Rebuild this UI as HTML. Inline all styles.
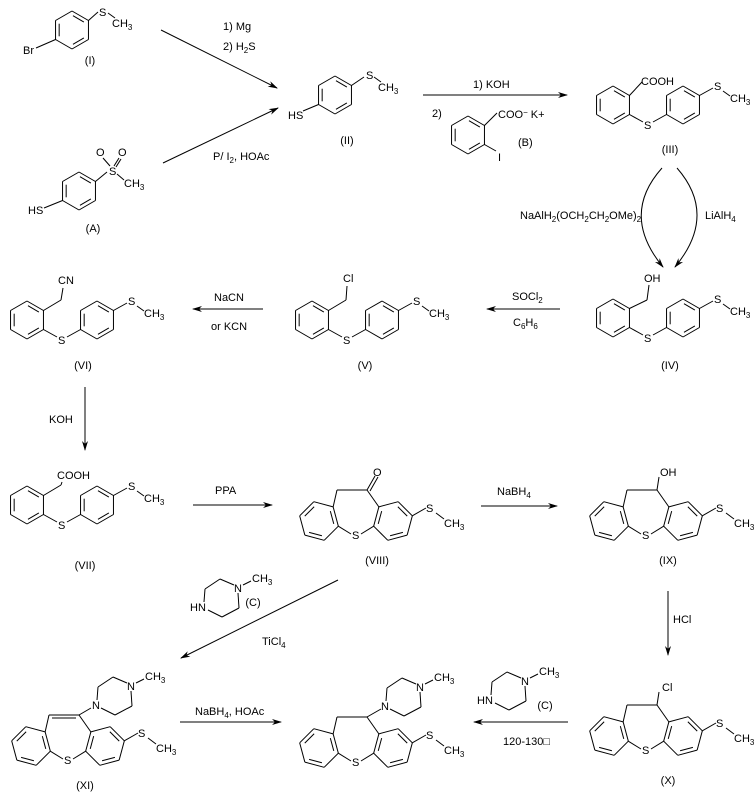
<!DOCTYPE html>
<html><head><meta charset="utf-8"><style>
html,body{margin:0;padding:0;background:#fff;}
svg{display:block;}
text{font-family:"Liberation Sans",Arial,sans-serif;font-size:11px;fill:#000;}
.s{font-size:8px;}
</style></head><body>
<svg id="s" width="756" height="798" viewBox="0 0 756 798" xmlns="http://www.w3.org/2000/svg">
<defs><marker id="ah" markerWidth="10" markerHeight="8" refX="9" refY="4" orient="auto" markerUnits="userSpaceOnUse"><path d="M0,1 L10,4 L0,7 L3,4 Z" fill="#000"/></marker></defs>
<g id="b" stroke="#000" stroke-width="1" fill="none"></g>
<g id="a" stroke="#000" stroke-width="1" fill="none">
<line x1="161" y1="30" x2="277" y2="88" marker-end="url(#ah)"/>
<line x1="163" y1="163" x2="278" y2="108" marker-end="url(#ah)"/>
<line x1="423" y1="95" x2="567" y2="95" marker-end="url(#ah)"/>
<path d="M662,168 Q620,215 663,267" marker-end="url(#ah)"/>
<path d="M677,168 Q718,215 675,267" marker-end="url(#ah)"/>
<line x1="560" y1="309" x2="487" y2="309" marker-end="url(#ah)"/>
<line x1="263" y1="309" x2="193" y2="309" marker-end="url(#ah)"/>
<line x1="85" y1="387" x2="85" y2="450" marker-end="url(#ah)"/>
<line x1="193" y1="505" x2="272" y2="505" marker-end="url(#ah)"/>
<line x1="481" y1="506" x2="557" y2="506" marker-end="url(#ah)"/>
<line x1="668" y1="591" x2="668" y2="655" marker-end="url(#ah)"/>
<line x1="568" y1="722" x2="474" y2="722" marker-end="url(#ah)"/>
<line x1="338" y1="580" x2="181" y2="658" marker-end="url(#ah)"/>
<line x1="180" y1="722" x2="281" y2="722" marker-end="url(#ah)"/>
</g>
<text x="223" y="30">1) Mg</text>
<text x="223" y="50">2) H<tspan class="s" dy="3">2</tspan><tspan dy="-3">S</tspan></text>
<text x="213" y="160">P/ I<tspan class="s" dy="3">2</tspan><tspan dy="-3">, HOAc</tspan></text>
<text x="473" y="88">1) KOH</text>
<text x="432" y="117">2)</text>
<text x="498" y="118">COO<tspan dy="-3" class="s">−</tspan><tspan dy="3">  K+</tspan></text>
<text x="498" y="161">I</text>
<text x="518" y="146">(B)</text>
<text x="520" y="219">NaAlH<tspan class="s" dy="3">2</tspan><tspan dy="-3">(OCH</tspan><tspan class="s" dy="3">2</tspan><tspan dy="-3">CH</tspan><tspan class="s" dy="3">2</tspan><tspan dy="-3">OMe)</tspan><tspan class="s" dy="3">2</tspan></text>
<text x="705" y="219">LiAlH<tspan class="s" dy="3">4</tspan></text>
<text x="512" y="300">SOCl<tspan class="s" dy="3">2</tspan></text>
<text x="513" y="326">C<tspan class="s" dy="3">6</tspan><tspan dy="-3">H</tspan><tspan class="s" dy="3">6</tspan></text>
<text x="214" y="301">NaCN</text>
<text x="211" y="330">or KCN</text>
<text x="49" y="423">KOH</text>
<text x="215" y="494">PPA</text>
<text x="497" y="495">NaBH<tspan class="s" dy="3">4</tspan></text>
<text x="673" y="623">HCl</text>
<text x="503" y="745">120-130□</text>
<text x="262" y="645">TiCl<tspan class="s" dy="3">4</tspan></text>
<text x="195" y="715">NaBH<tspan class="s" dy="3">4</tspan><tspan dy="-3">, HOAc</tspan></text>
<text x="90" y="64" text-anchor="middle">(I)</text>
<text x="93" y="232" text-anchor="middle">(A)</text>
<text x="347" y="144" text-anchor="middle">(II)</text>
<text x="670" y="153" text-anchor="middle">(III)</text>
<text x="670" y="369" text-anchor="middle">(IV)</text>
<text x="365" y="369" text-anchor="middle">(V)</text>
<text x="83" y="369" text-anchor="middle">(VI)</text>
<text x="85" y="569" text-anchor="middle">(VII)</text>
<text x="377" y="564" text-anchor="middle">(VIII)</text>
<text x="668" y="564" text-anchor="middle">(IX)</text>
<text x="668" y="784" text-anchor="middle">(X)</text>
<text x="85" y="789" text-anchor="middle">(XI)</text>
<text x="545" y="709" text-anchor="middle">(C)</text>
<text x="253" y="606" text-anchor="middle">(C)</text>
<text x="23" y="54">Br</text>
<text x="99" y="16">S</text>
<text x="112" y="27">CH<tspan class="s" dy="3">3</tspan></text>
<text x="28" y="214">HS</text>
<text x="109" y="175">S</text>
<text x="96" y="156">O</text>
<text x="118" y="156">O</text>
<text x="124" y="187">CH<tspan class="s" dy="3">3</tspan></text>
<text x="288" y="119">HS</text>
<text x="366" y="79">S</text>
<text x="378" y="91">CH<tspan class="s" dy="3">3</tspan></text>
<text x="641" y="85">COOH</text>
<text x="644" y="282">OH</text>
<text x="343" y="282">Cl</text>
<text x="58" y="284">CN</text>
<text x="57" y="479">COOH</text>
<text x="373" y="476">O</text>
<text x="660" y="476">OH</text>
<text x="662" y="691">Cl</text>
<text x="477" y="704">HN</text>
<text x="190" y="611">HN</text>
<g id="t"></g>
</svg>
<script>
var B=document.getElementById('b'),T=document.getElementById('t'),NS='http://www.w3.org/2000/svg';
function L(x1,y1,x2,y2){var l=document.createElementNS(NS,'line');l.setAttribute('x1',x1);l.setAttribute('y1',y1);l.setAttribute('x2',x2);l.setAttribute('y2',y2);B.appendChild(l);}
function TX(x,y,s,sub){var t=document.createElementNS(NS,'text');t.setAttribute('x',x);t.setAttribute('y',y);t.textContent=s;if(sub){var u=document.createElementNS(NS,'tspan');u.setAttribute('class','s');u.setAttribute('dy','3');u.textContent=sub;t.appendChild(u);}T.appendChild(t);}
function hex(cx,cy,r,a0,d){var v=[];for(var k=0;k<6;k++){var a=(a0+60*k)*Math.PI/180;v.push([cx+r*Math.cos(a),cy+r*Math.sin(a)]);}
for(k=0;k<6;k++){var p=v[k],q=v[(k+1)%6];L(p[0],p[1],q[0],q[1]);}
d.forEach(function(k){var p=v[k],q=v[(k+1)%6];var f=0.78;var p1=[cx+(p[0]-cx)*f,cy+(p[1]-cy)*f],q1=[cx+(q[0]-cx)*f,cy+(q[1]-cy)*f];var mx=(p1[0]+q1[0])/2,my=(p1[1]+q1[1])/2;var g=0.85;L(mx+(p1[0]-mx)*g,my+(p1[1]-my)*g,mx+(q1[0]-mx)*g,my+(q1[1]-my)*g);});return v;}
var v=hex(72,30,19,-90,[0,2,4]);L(v[1][0],v[1][1],98,12);L(108,13,115,18);L(v[4][0],v[4][1],36,48);
v=hex(79,191,19,-90,[0,2,4]);L(v[1][0],v[1][1],107,172);L(v[4][0],v[4][1],44,208);L(117,174,124,180);L(110,166,103,158);L(114,166,119,158);L(116,167,121,159);
v=hex(335,95,19,-90,[0,2,4]);L(v[1][0],v[1][1],364,77);L(374,77,381,82);L(v[4][0],v[4][1],303,111);
v=hex(468,135,19,-90,[0,2,4]);L(v[1][0],v[1][1],497,113);L(v[2][0],v[2][1],496,151);
function di(cx,cy){var a=hex(cx,cy,19,-90,[0,2,4]);var b=hex(cx+70,cy,19,-90,[0,2,4]);
L(a[2][0],a[2][1],cx+30,cy+17);L(cx+40,cy+17,b[4][0],b[4][1]);TX(cx+31,cy+24,'S');
L(b[1][0],b[1][1],cx+100,cy-17);TX(cx+101,cy-15,'S');L(cx+110,cy-14,cx+117,cy-9);TX(cx+117,cy-3,'CH','3');return a;}
var a=di(613,105);L(a[1][0],a[1][1],642,82);
a=di(613,318);L(a[1][0],a[1][1],647,300);L(647,300,649,285);
a=di(312,320);L(a[1][0],a[1][1],346,300);L(346,300,347,286);
a=di(27,320);L(a[1][0],a[1][1],61,300);L(61,300,63,288);
a=di(27,505);L(a[1][0],a[1][1],61,485);L(61,485,62,482);
function tri(sx,sy,top){var l=hex(sx-37,sy-14,20,-45,[0,2,4]);var r=hex(sx+37,sy-14,20,165,[0,2,4]);
L(l[1][0],l[1][1],sx-5,sy-1);L(sx+5,sy-1,r[0][0],r[0][1]);TX(sx-4,sy+4,'S');
var c1=[sx-19,sy-45],c2=[sx+11,sy-45];L(l[0][0],l[0][1],c1[0],c1[1]);L(c1[0],c1[1],c2[0],c2[1]);L(c2[0],c2[1],r[1][0],r[1][1]);
if(top)L(c1[0]+3,c1[1]+3,c2[0]-3,c2[1]+3);
L(r[3][0],r[3][1],sx+70,sy-27);TX(sx+70,sy-23,'S');L(sx+80,sy-22,sx+88,sy-16);TX(sx+88,sy-8,'CH','3');return c2;}
var c=tri(356,535);L(c[0],c[1],c[0]+8,c[1]-14);L(c[0]+3,c[1]+1,c[0]+11,c[1]-13);
c=tri(646,535);L(c[0],c[1],c[0]+2,c[1]-13);
c=tri(646,750);L(c[0],c[1],c[0]+2,c[1]-13);
function pip(nx,ny,lab){if(lab)TX(nx-4,ny+4,'N');var p=[[nx+2,ny-18],[nx+17,ny-28],[nx+35,ny-19],[nx+36,ny+1],[nx+19,ny+10]];
L(nx+1,ny-5,p[0][0],p[0][1]);L(p[0][0],p[0][1],p[1][0],p[1][1]);L(p[1][0],p[1][1],nx+31,ny-22);L(nx+35,ny-14,p[3][0],p[3][1]);L(p[3][0],p[3][1],p[4][0],p[4][1]);L(p[4][0],p[4][1],nx+5,ny+3);
TX(nx+31,ny-15,'N');L(nx+40,ny-22,nx+48,ny-26);TX(nx+49,ny-25,'CH','3');}
c=tri(356,762);L(c[0],c[1],381,709);pip(385,706,true);
c=tri(68,760,true);L(c[0],c[1],91,708);pip(96,705,true);
pip(490,700,false);pip(203,607,false);
</script>
</body></html>
